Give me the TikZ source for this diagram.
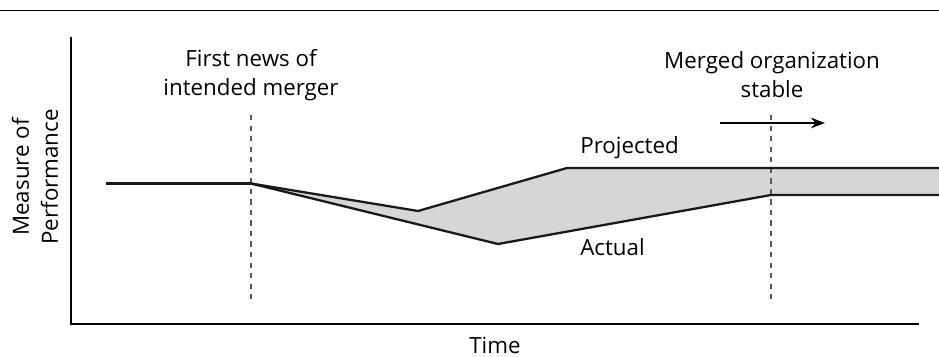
\documentclass[tikz,border=0pt]{standalone}
\usepackage{fontspec}
\setmainfont{Open Sans}
\usepackage{tikz}
\usetikzlibrary{arrows.meta}

\tikzset{
    label/.style={font=\fontsize{12.7}{16.5}\selectfont, align=center, inner sep=0pt},
    curve/.style={line width=1.3pt, black!90},
    marker/.style={dashed, line width=0.7pt, black!65},
    axis/.style={line width=0.9pt}
}

\begin{document}
\begin{tikzpicture}[x=0.02cm, y=-0.02cm]
    \useasboundingbox (0,0) rectangle (939,357);

    % Rule across the top
    \draw[axis] (0,10.5) -- (939,10.5);

    % Axes
    \draw[axis] (71,37) -- (71,324) -- (919,324);
    \node[label, rotate=90] (perf) at (35,177) {Measure of\\Performance};
    \node[label] (time) at (495,345) {Time};

    % Gap between projected and actual
    \fill[black!16] (251,183) -- (418,211) -- (567,168) -- (939,168)
        -- (939,195) -- (771,195) -- (498,244) -- cycle;

    % Event markers
    \draw[marker] (251,115) -- (251,301);
    \draw[marker] (771,115) -- (771,301);
    \node[label] (news) at (251,75) {First news of\\intended merger};
    \node[label] (stable) at (772,75) {Merged organization\\stable};
    \draw[line width=1.4pt, -{Stealth[length=8pt,width=6pt]}] (720,123) -- (825,123);

    % Performance lines
    \draw[curve] (106,183.5) -- (251,183.5);
    \draw[curve] (251,183.5) -- (418,211) -- (567,168) -- (939,168);
    \draw[curve] (251,183.5) -- (498,244) -- (771,195) -- (939,195);
    \node[label, anchor=west] (proj) at (580,148) {Projected};
    \node[label, anchor=west] (act) at (580,247) {Actual};
\end{tikzpicture}
\end{document}
